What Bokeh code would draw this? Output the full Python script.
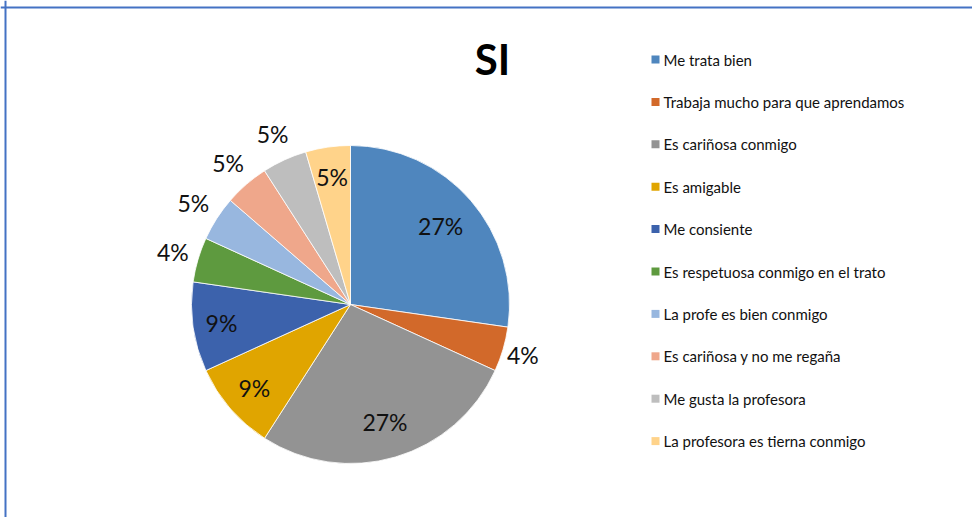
import math
from bokeh.plotting import figure
from bokeh.models import Range1d, Span, ColumnDataSource
from bokeh.core.properties import value
from bokeh.embed import file_html
from bokeh.resources import INLINE

# ---- data ----
title_text = "SI"
categories = [
    "Me trata bien",
    "Trabaja mucho para que aprendamos",
    "Es cariñosa conmigo",
    "Es amigable",
    "Me consiente",
    "Es respetuosa conmigo en el trato",
    "La profe es bien conmigo",
    "Es cariñosa y no me regaña",
    "Me gusta la profesora",
    "La profesora es tierna conmigo",
]
counts = [6, 1, 6, 2, 2, 1, 1, 1, 1, 1]
pct_labels = ["27%", "4%", "27%", "9%", "9%", "4%", "5%", "5%", "5%", "5%"]
colors = ["#4F86BE", "#D2692A", "#939393", "#E0A500", "#3C62AC",
          "#5E9A3F", "#98B7DF", "#EFA78B", "#BEBEBE", "#FFD38A"]

# ---- layout / style constants ----
W, H = 972, 517
CX, CY, R = 350, 213, 159
label_r = [0.75, 1.13, 0.77, 0.80, 0.82, 1.165, 1.175, 1.175, 1.18, 0.81]
FONT = "Lato"

p = figure(width=W, height=H, output_backend="svg", toolbar_location=None,
           x_range=Range1d(0, W), y_range=Range1d(0, H), min_border=0)
p.axis.visible = False
p.grid.visible = False
p.outline_line_color = None
p.background_fill_color = "white"
p.border_fill_color = "white"

total = sum(counts)
starts, ends, lx, ly = [], [], [], []
c = 0.0
for i, v in enumerate(counts):
    c0 = c / total
    c += v
    c1 = c / total
    a0 = math.pi / 2 - 2 * math.pi * c0
    a1 = math.pi / 2 - 2 * math.pi * c1
    starts.append(a0)
    ends.append(a1)
    am = (a0 + a1) / 2
    lx.append(CX + label_r[i] * R * math.cos(am))
    ly.append(CY + label_r[i] * R * math.sin(am))

src = ColumnDataSource(dict(start=starts, end=ends, color=colors, cat=categories,
                            lx=lx, ly=ly, lab=pct_labels))
p.wedge(x=CX, y=CY, radius=R, start_angle="start", end_angle="end",
        direction="clock", fill_color="color", line_color="white",
        line_width=0.8, source=src)
p.text(x="lx", y="ly", text="lab", source=src, text_align="center",
       text_baseline="middle", text_font=value(FONT), text_font_size="23px",
       text_color="#111111")

# title
p.text(x=[492], y=[459], text=[title_text], text_align="center",
       text_baseline="middle", text_font=value(FONT), text_font_size="42px",
       text_font_style="bold", text_color="black")

# manual legend
LEG_X, LEG_Y0, LEG_DY = 655, 458, 42.4
leg_y = [LEG_Y0 - i * LEG_DY for i in range(len(categories))]
leg_src = ColumnDataSource(dict(x=[LEG_X] * len(categories), y=leg_y,
                                tx=[LEG_X + 8] * len(categories),
                                color=colors, cat=categories))
p.rect(x="x", y="y", width=8, height=8, width_units="screen",
       height_units="screen", fill_color="color", line_color=None, source=leg_src)
p.text(x="tx", y="y", text="cat", source=leg_src, text_align="left",
       text_baseline="middle", text_font=value(FONT), text_font_size="15px",
       text_color="#111111")

# frame border (top and left visible in the reference)
p.add_layout(Span(location=H - 7, dimension="width", line_color="#4472C4", line_width=2))
p.add_layout(Span(location=5, dimension="height", line_color="#4472C4", line_width=2))

open("out.html", "w").write(file_html(p, INLINE))
